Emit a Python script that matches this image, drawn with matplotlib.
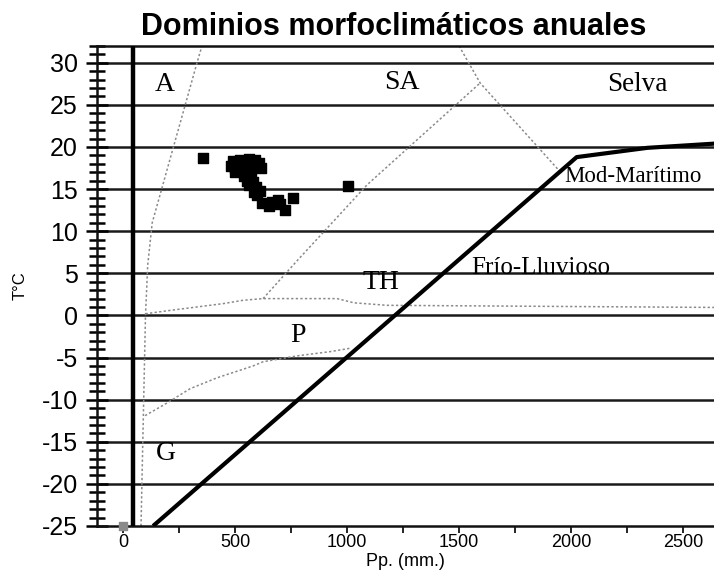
import matplotlib
matplotlib.use("Agg")
import matplotlib.pyplot as plt
from matplotlib.ticker import MultipleLocator

# ---------------- data ----------------
title = "Dominios morfoclimáticos anuales"
x_label = "Pp. (mm.)"
y_label = "T°C"
x_ticks = [0, 500, 1000, 1500, 2000, 2500]
y_ticks = [-25, -20, -15, -10, -5, 0, 5, 10, 15, 20, 25, 30]

# station points (precipitation mm, temperature °C)
pts_x = [357, 480, 490, 500, 520, 530, 545, 560, 575, 590, 605, 615, 500, 555,
         540, 555, 570, 560, 580, 595, 585, 610, 600,
         620, 650, 665, 690, 700, 725, 760, 1005]
pts_y = [18.7, 17.8, 18.3, 17.5, 18.5, 17.9, 18.2, 18.6, 17.6, 18.4, 18.1, 17.5, 17.0, 17.2,
         16.6, 16.0, 16.8, 15.5, 15.9, 15.2, 14.6, 14.8, 14.3,
         13.3, 13.0, 13.5, 13.7, 13.2, 12.5, 13.9, 15.4]
origin_x = [0]
origin_y = [-25]

# domain boundaries (dotted)
a_x = [80, 100, 110, 130, 330, 352]
a_y = [-25, 0, 6, 11, 30, 32]
thp_x = [100, 210, 446, 536, 625, 955, 1030, 1180, 2640]
thp_y = [0.2, 0.6, 1.4, 1.8, 2.0, 2.0, 1.5, 1.2, 0.95]
sa_x = [625, 777, 1089, 1594]
sa_y = [2.0, 6.5, 15.5, 27.6]
mm_x = [1500, 1594, 1960]
mm_y = [32, 27.6, 16.8]
pg_x = [98, 196, 299, 420, 580, 625, 777, 924, 1013]
pg_y = [-11.9, -10.4, -8.7, -7.4, -6.0, -5.5, -4.8, -4.3, -3.9]

# Frío-Lluvioso boundary (thick)
fl_x = [134, 2025, 2340, 2640]
fl_y = [-25, 18.8, 19.9, 20.4]
axis_line_x = 45

# region labels
reg_names = ["A", "SA", "Selva", "Mod-Marítimo", "TH", "Frío-Lluvioso", "P", "G"]
reg_x = [188, 1245, 2295, 1968, 1152, 1866, 781, 190]
reg_y = [27.4, 27.6, 27.4, 16.5, 3.9, 5.6, -2.4, -16.4]
reg_ha = ["center", "center", "center", "left", "center", "center", "center", "center"]
reg_fs = [20, 20, 19.5, 16.5, 20, 18, 20, 20]

# ---------------- figure ----------------
fig = plt.figure(figsize=(7.14, 5.77), dpi=100)
ax = fig.add_axes([0.136, 0.0884, 0.864, 0.832])
ax.set_xlim(-116, 2638)
ax.set_ylim(-25, 32)

ax.spines["right"].set_visible(False)
for s in ["left", "top", "bottom"]:
    ax.spines[s].set_linewidth(1.8)
    ax.spines[s].set_color("#111111")

# horizontal grid lines at each 5 °C
for yv in y_ticks[1:]:
    ax.axhline(yv, color="#1a1a1a", lw=1.8, zorder=1)

dot_kw = dict(color="#8a8a8a", lw=1.1, ls=(0, (1.5, 1.5)), zorder=2)
ax.plot(a_x, a_y, **dot_kw)
ax.plot(thp_x, thp_y, **dot_kw)
ax.plot(sa_x, sa_y, **dot_kw)
ax.plot(mm_x, mm_y, **dot_kw)
ax.plot(pg_x, pg_y, **dot_kw)

ax.axvline(axis_line_x, color="black", lw=3.2, zorder=3)
ax.plot(fl_x, fl_y, color="black", lw=3.0, solid_capstyle="butt", zorder=3)

ax.scatter(pts_x, pts_y, marker="s", s=46, color="black", zorder=4)
ax.scatter(origin_x, origin_y, marker="s", s=40, color="#8a8a8a", zorder=4, clip_on=False)

for name, xx, yy, ha, fs in zip(reg_names, reg_x, reg_y, reg_ha, reg_fs):
    ax.text(xx, yy, name, ha=ha, va="center", fontsize=fs,
            family="Liberation Serif", zorder=5)

ax.set_xticks(x_ticks)
ax.set_xticklabels([str(v) for v in x_ticks], fontsize=13, family="Liberation Sans")
ax.xaxis.set_minor_locator(MultipleLocator(250))
ax.set_yticks(y_ticks)
ax.set_yticklabels([str(v) for v in y_ticks], fontsize=18, family="Liberation Sans")
ax.yaxis.set_minor_locator(MultipleLocator(1))
ax.tick_params(axis="y", which="major", direction="inout", length=16, width=1.8, pad=6)
ax.tick_params(axis="y", which="minor", direction="inout", length=12, width=1.8)
ax.tick_params(axis="x", which="both", direction="out", length=5, width=1.2, pad=1)

ax.set_xlabel(x_label, fontsize=13, family="Liberation Sans", labelpad=1)
ax.set_ylabel(y_label, fontsize=12, family="Liberation Sans", labelpad=10)

fig.text(0.551, 0.953, title, ha="center", va="center", fontsize=22,
         fontweight="bold", family="Liberation Sans")

fig.savefig("out.png", dpi=100)
